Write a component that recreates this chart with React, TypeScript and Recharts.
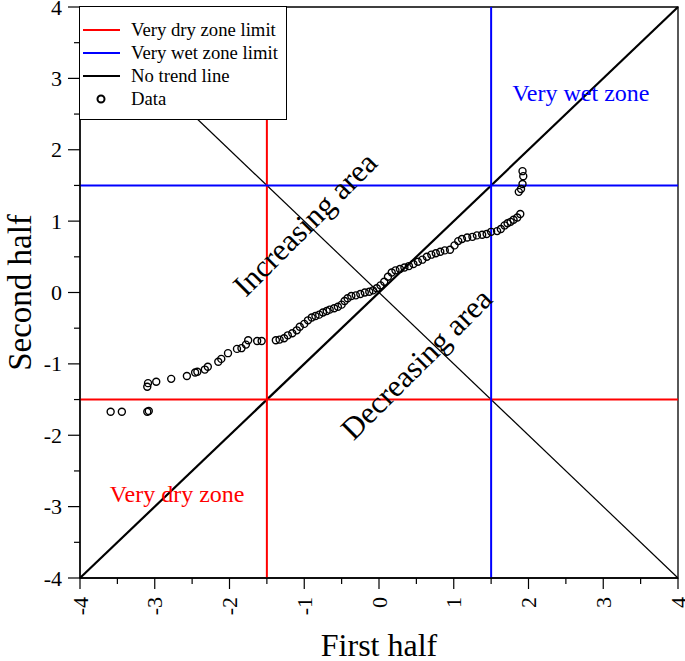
import React from 'react'
import {
  ScatterChart,
  Scatter,
  XAxis,
  YAxis,
  ReferenceLine,
  ReferenceArea,
  ReferenceDot,
  Legend,
} from 'recharts'

const firstHalf = [
  -3.59, -3.44, -3.1, -3.08, -3.1, -3.09, -2.98, -2.78, -2.57, -2.46, -2.43, -2.33, -2.29, -2.15,
  -2.11, -2.02, -1.9, -1.84, -1.78, -1.75, -1.63, -1.57, -1.38, -1.33, -1.27, -1.22, -1.16, -1.1,
  -1.06, -1.0, -0.95, -0.9, -0.85, -0.8, -0.75, -0.7, -0.66, -0.6, -0.55, -0.5, -0.46, -0.42,
  -0.37, -0.31, -0.25, -0.19, -0.13, -0.08, -0.03, 0.02, 0.07, 0.12, 0.17, 0.22, 0.28, 0.34, 0.4,
  0.46, 0.52, 0.58, 0.64, 0.7, 0.76, 0.82, 0.88, 0.95, 1.01, 1.06, 1.11, 1.18, 1.25, 1.31, 1.38,
  1.44, 1.5, 1.58, 1.63, 1.68, 1.72, 1.76, 1.8, 1.85, 1.89, 1.87, 1.9, 1.92, 1.93, 1.92,
]
const secondHalf = [
  -1.67, -1.67, -1.67, -1.66, -1.32, -1.27, -1.25, -1.21, -1.17, -1.12, -1.11, -1.08, -1.04, -0.97,
  -0.93, -0.85, -0.79, -0.78, -0.73, -0.67, -0.68, -0.68, -0.67, -0.66, -0.64, -0.6, -0.57, -0.53,
  -0.48, -0.44, -0.39, -0.35, -0.33, -0.31, -0.28, -0.26, -0.24, -0.22, -0.2, -0.17, -0.12, -0.08,
  -0.05, -0.04, -0.02, 0.0, 0.01, 0.03, 0.06, 0.1, 0.15, 0.22, 0.28, 0.31, 0.33, 0.35, 0.37, 0.4,
  0.43, 0.46, 0.5, 0.53, 0.55, 0.57, 0.59, 0.6, 0.66, 0.72, 0.75, 0.77, 0.78, 0.8, 0.81, 0.82,
  0.85, 0.86, 0.89, 0.94, 0.97, 0.99, 1.02, 1.05, 1.1, 1.41, 1.45, 1.52, 1.63, 1.7,
]

const axisTicks = [-4, -3.5, -3, -2.5, -2, -1.5, -1, -0.5, 0, 0.5, 1, 1.5, 2, 2.5, 3, 3.5, 4]
const dryLimit = -1.5
const wetLimit = 1.5
const noTrendLine = [{ x: -4, y: -4 }, { x: 4, y: 4 }]
const crossLine = [{ x: -4, y: 4 }, { x: 4, y: -4 }]

const zoneLabels = [
  { text: 'Very wet zone', x: 2.7, y: 2.8, color: '#0000ff', size: 24, angle: 0 },
  { text: 'Very dry zone', x: -2.7, y: -2.82, color: '#ff0000', size: 24, angle: 0 },
  { text: 'Increasing area', x: -0.99, y: 0.96, color: '#000', size: 31, angle: -45 },
  { text: 'Decreasing area', x: 0.5, y: -1.0, color: '#000', size: 31, angle: -45 },
]

const legendItems = [
  { label: 'Very dry zone limit', color: '#ff0000', kind: 'line' },
  { label: 'Very wet zone limit', color: '#0000ff', kind: 'line' },
  { label: 'No trend line', color: '#000', kind: 'line' },
  { label: 'Data', color: '#000', kind: 'circle' },
]

const points = firstHalf.map((x, i) => ({ x, y: secondHalf[i] }))

const FONT = "'Liberation Serif', 'Times New Roman', serif"

const XTick = ({ x, y, payload }: any) => {
  const v = payload.value
  const major = Number.isInteger(v)
  return (
    <g>
      <line x1={x} y1={y} x2={x} y2={y + (major ? 11 : 6)} stroke="#000" strokeWidth={1.2} />
      {major && (
        <text
          transform={`translate(${x},${y + 19}) rotate(-90)`}
          textAnchor="end"
          dominantBaseline="central"
          fontSize={22}
          fontFamily={FONT}
          fill="#000"
        >
          {v}
        </text>
      )}
    </g>
  )
}

const YTick = ({ x, y, payload }: any) => {
  const v = payload.value
  const major = Number.isInteger(v)
  return (
    <g>
      <line x1={x - (major ? 12 : 6)} y1={y} x2={x} y2={y} stroke="#000" strokeWidth={1.2} />
      {major && (
        <text
          x={x - 18}
          y={y}
          textAnchor="end"
          dominantBaseline="central"
          fontSize={22}
          fontFamily={FONT}
          fill="#000"
        >
          {v}
        </text>
      )}
    </g>
  )
}

const LegendBox = () => (
  <div
    style={{
      width: 208,
      height: 114,
      boxSizing: 'border-box',
      border: '1px solid #000',
      background: '#fff',
      paddingTop: 11,
      fontFamily: FONT,
      fontSize: 18.7,
      color: '#000',
    }}
  >
    {legendItems.map((it) => (
      <div key={it.label} style={{ display: 'flex', alignItems: 'center', height: 23 }}>
        <svg width={48} height={12} style={{ marginLeft: 3 }}>
          {it.kind === 'line' ? (
            <line x1={0} y1={6} x2={37} y2={6} stroke={it.color} strokeWidth={2} />
          ) : (
            <circle cx={18} cy={6} r={3.5} fill="none" stroke="#000" strokeWidth={2} />
          )}
        </svg>
        <span style={{ whiteSpace: 'nowrap' }}>{it.label}</span>
      </div>
    ))}
  </div>
)

export default function App() {
  return (
    <div style={{ position: 'absolute', left: 0, top: 0, background: '#fff' }}>
      <ScatterChart
        width={685}
        height={661}
        margin={{ top: 7, right: 7, left: 0, bottom: 0 }}
      >
        <XAxis
          type="number"
          dataKey="x"
          domain={[-4, 4]}
          ticks={axisTicks}
          interval={0}
          tickSize={0}
          tickMargin={0}
          tick={<XTick />}
          height={83}
          axisLine={{ stroke: '#000', strokeWidth: 1.3 }}
          tickLine={false}
          label={({ viewBox }: any) => (
            <text
              x={viewBox.x + viewBox.width / 2}
              y={viewBox.y + viewBox.height - 5}
              textAnchor="middle"
              fontSize={32}
              fontFamily={FONT}
              fill="#000"
            >
              First half
            </text>
          )}
        />
        <YAxis
          type="number"
          dataKey="y"
          domain={[-4, 4]}
          ticks={axisTicks}
          interval={0}
          tickSize={0}
          tickMargin={0}
          tick={<YTick />}
          width={80}
          axisLine={{ stroke: '#000', strokeWidth: 1.3 }}
          tickLine={false}
          label={({ viewBox }: any) => (
            <text
              transform={`translate(${viewBox.x + 20},${viewBox.y + viewBox.height / 2}) rotate(-90)`}
              textAnchor="middle"
              dominantBaseline="central"
              fontSize={33}
              fontFamily={FONT}
              fill="#000"
            >
              Second half
            </text>
          )}
        />
        <ReferenceArea x1={-4} x2={4} y1={-4} y2={4} fill="none" stroke="#000" strokeWidth={1.3} />
        <ReferenceLine segment={crossLine} stroke="#000" strokeWidth={1.2} />
        <ReferenceLine segment={noTrendLine} stroke="#000" strokeWidth={2.2} />
        <ReferenceLine x={dryLimit} stroke="#ff0000" strokeWidth={2} />
        <ReferenceLine y={dryLimit} stroke="#ff0000" strokeWidth={2} />
        <ReferenceLine x={wetLimit} stroke="#0000ff" strokeWidth={2} />
        <ReferenceLine y={wetLimit} stroke="#0000ff" strokeWidth={2} />
        {zoneLabels.map((z) => (
          <ReferenceDot
            key={z.text}
            x={z.x}
            y={z.y}
            r={1}
            shape={(p: any) => (
              <text
                transform={`translate(${p.cx},${p.cy}) rotate(${z.angle})`}
                textAnchor="middle"
                dominantBaseline="central"
                fontSize={z.size}
                fontFamily={FONT}
                fill={z.color}
              >
                {z.text}
              </text>
            )}
          />
        ))}
        <Scatter
          data={points}
          isAnimationActive={false}
          shape={(p: any) => (
            <circle cx={p.cx} cy={p.cy} r={3.5} fill="none" stroke="#000" strokeWidth={1.4} />
          )}
        />
        <Legend
          layout="vertical"
          align="center"
          verticalAlign="middle"
          content={() => <LegendBox />}
          wrapperStyle={{ left: 79, top: 6, width: 208, height: 114, margin: 0 }}
        />
      </ScatterChart>
    </div>
  )
}
